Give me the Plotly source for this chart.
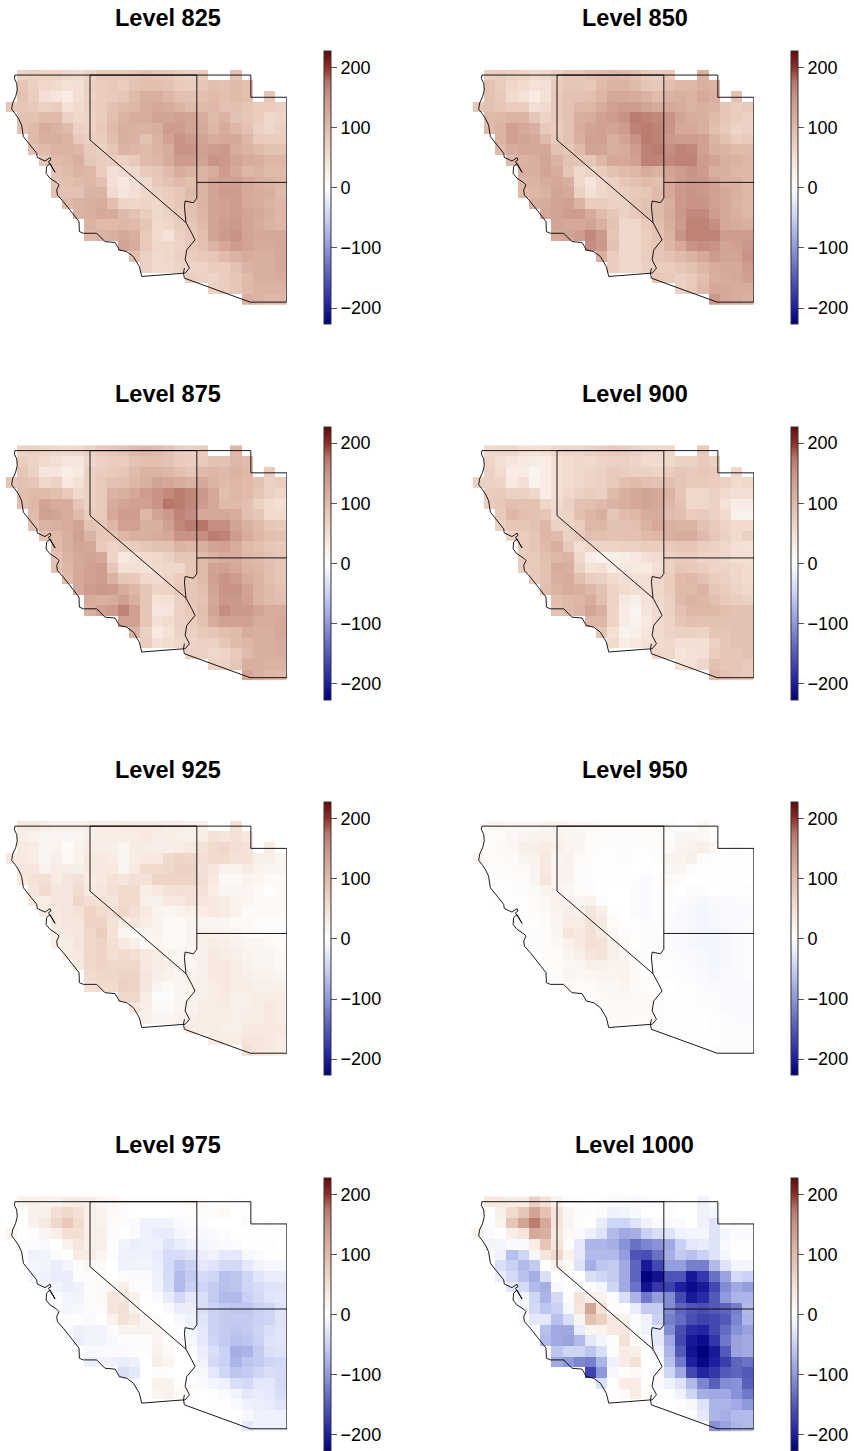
import plotly.graph_objects as go

LEVELS = [825, 850, 875, 900, 925, 950, 975, 1000]
N = None
LONS = [-124.375 + 0.625 * i for i in range(25)]
LATS = [42.0 - 0.5 * j for j in range(22)]
ROW_START = [1, 1, 1, 0, 1, 1, 2, 2, 3, 4, 4, 4, 5, 6, 7, 7, 10, 11, 12, 16, 18, 21]
ROW_STOP = [21, 22, 24] + [25] * 19

L825 = [
[65,70,65,65,60,55,65,80,80,80,85,90,85,85,75,70,75,N,N,90],
[85,70,60,55,45,50,70,75,80,75,90,95,95,90,80,75,85,95,90,100,95],
[90,75,50,40,30,50,65,75,80,85,100,115,115,105,95,90,95,100,95,100,95,N,85],
[85,85,80,70,75,45,55,70,75,90,100,105,120,125,120,110,100,100,105,90,95,85,75,75,70],
[90,90,100,100,70,60,65,75,95,110,120,120,130,130,135,130,120,100,110,90,85,75,60,65],
[90,100,120,110,100,70,65,80,100,115,110,110,115,140,140,130,125,105,120,105,90,70,60,70],
[100,115,115,110,80,70,75,95,115,110,90,110,130,150,140,130,120,125,125,105,80,75,75],
[90,100,110,110,105,80,70,85,110,105,100,110,120,150,150,135,140,145,120,110,100,90,90],
[85,100,105,115,85,75,75,70,80,100,105,120,140,140,130,150,145,130,120,115,105,105],
[90,100,110,105,75,50,55,60,80,85,100,120,110,110,120,140,125,105,110,100,100],
[90,95,100,105,95,50,35,50,60,80,90,100,95,110,130,135,135,125,115,110,105],
[90,90,90,110,110,55,40,50,60,70,75,85,100,110,130,140,140,125,120,115,100],
[100,110,115,120,95,65,60,65,60,75,85,95,110,130,135,140,125,120,110,105],
[110,115,125,120,100,90,75,60,70,80,90,105,130,135,140,130,125,115,105],
[110,100,100,105,100,85,55,60,75,85,100,130,140,145,130,120,110,105],
[105,110,115,125,115,80,55,45,70,80,95,130,145,150,130,125,125,125],
[130,120,80,60,60,65,80,90,110,125,140,130,120,120,125],
[95,70,55,60,70,75,80,85,100,110,120,115,115,125],
[70,55,55,65,65,65,75,75,90,110,115,115,125],
[75,70,65,75,85,100,115,115,120],
[70,75,85,100,110,110,110],
[115,110,105,105],
]
L850 = [
[70,75,70,65,55,60,70,85,85,95,100,105,100,95,80,75,80,N,N,110],
[90,75,60,55,45,50,75,85,85,80,100,110,110,100,85,80,95,105,105,115,110],
[90,80,55,45,30,45,80,90,90,95,105,125,125,120,110,100,110,115,110,125,115,N,90],
[85,90,85,75,75,50,55,80,90,105,105,120,135,140,140,130,120,125,120,110,115,110,85,75,80],
[100,105,110,110,85,65,80,90,115,120,135,140,150,170,165,160,150,130,120,115,100,85,75,70],
[100,110,135,125,115,80,75,90,120,130,135,130,140,165,170,165,150,125,125,115,95,80,65,70],
[110,135,130,125,100,80,90,115,135,135,115,130,150,170,165,145,140,140,135,110,90,75,80],
[100,120,125,125,125,90,85,100,130,130,115,120,140,165,170,155,165,160,135,115,110,100,100],
[100,110,115,130,110,90,85,85,105,125,125,135,165,165,160,165,165,140,130,115,110,105],
[115,115,130,120,85,60,65,75,90,100,105,120,110,130,140,150,140,115,115,105,105],
[105,110,120,125,115,60,40,60,70,85,90,100,95,125,140,145,145,130,115,115,105],
[100,105,110,130,125,70,50,60,70,75,80,85,100,125,145,150,145,135,125,115,105],
[115,120,130,135,110,75,75,70,70,85,90,100,115,145,150,150,135,125,110,105],
[125,130,140,140,120,100,85,70,80,95,100,120,145,160,160,140,125,115,105],
[130,125,125,130,115,90,60,60,80,95,115,140,165,165,155,125,120,115],
[125,130,140,160,145,85,60,60,75,90,110,150,165,165,165,140,140,140],
[155,145,90,60,60,75,85,105,125,150,155,150,130,135,145],
[115,75,60,60,75,85,90,100,110,125,140,130,130,150],
[75,60,60,70,75,75,85,90,105,120,125,125,140],
[85,80,70,80,95,115,120,125,135],
[70,80,100,125,125,120,120],
[145,125,120,115],
]
L875 = [
[65,70,65,60,55,60,70,80,85,90,100,105,100,90,75,70,75,N,N,105],
[75,65,55,50,40,40,60,70,75,75,90,95,95,90,80,75,80,90,90,105,100],
[85,70,40,40,25,35,70,75,80,85,100,110,110,105,95,85,100,105,100,110,105,N,75],
[85,90,85,60,70,35,45,70,80,90,95,105,115,130,125,120,110,125,110,100,105,100,90,70,75],
[95,100,100,95,80,60,70,80,110,115,125,140,150,160,170,160,145,125,95,105,100,85,70,60],
[95,105,130,120,120,85,70,80,120,130,135,135,150,175,170,160,140,125,100,100,90,70,55,50],
[100,135,130,120,100,75,80,125,140,140,105,130,145,165,155,125,125,125,120,95,85,55,55],
[90,110,115,120,130,90,85,105,135,135,115,115,135,160,170,175,155,155,130,115,100,85,80],
[90,100,115,135,110,85,85,105,115,115,120,125,150,150,155,170,165,140,120,105,95,90],
[100,115,130,125,80,65,70,75,85,90,90,110,105,115,130,135,120,100,95,85,80],
[90,110,125,130,125,65,35,45,55,60,70,85,85,100,110,120,120,105,100,90,85],
[90,105,125,135,140,85,50,50,45,55,60,60,85,100,130,135,125,110,105,95,85],
[100,125,135,140,110,85,80,60,55,65,75,85,100,135,150,140,120,110,95,85],
[125,140,145,140,120,105,85,65,65,80,85,95,130,150,150,130,110,100,90],
[120,115,120,135,115,85,45,50,70,85,90,125,145,145,135,110,100,95],
[115,135,140,165,135,85,40,40,70,80,95,130,155,145,145,130,120,120],
[135,135,85,50,55,70,75,90,120,135,135,135,120,120,125],
[110,70,35,45,65,70,80,85,95,100,120,115,115,125],
[75,50,55,60,65,70,70,85,100,105,115,115,120],
[70,70,60,65,80,100,115,115,120],
[65,70,85,115,115,110,110],
[130,115,105,100],
]
L900 = [
[55,60,60,50,45,50,60,65,65,70,75,80,75,70,60,60,60,N,N,80],
[65,50,40,35,30,30,50,55,60,55,65,70,70,65,55,55,60,70,70,80,70],
[70,55,30,30,15,30,50,55,60,65,70,80,75,70,70,65,75,85,80,85,80,N,60],
[70,70,65,35,50,20,30,50,55,60,65,70,80,95,100,95,90,95,85,80,80,75,70,55,60],
[75,80,70,70,60,30,50,60,70,75,70,100,115,125,130,125,110,85,60,60,70,55,50,50],
[75,85,95,90,90,60,55,70,90,95,100,110,115,125,130,125,105,90,60,60,70,45,30,30],
[80,105,95,90,85,60,65,95,105,115,85,100,105,120,120,100,95,75,80,70,55,20,20],
[70,85,85,90,105,70,65,75,105,105,90,90,95,110,125,115,110,110,90,80,65,55,55],
[65,75,85,105,100,70,80,95,95,90,90,90,100,105,115,120,120,100,85,70,55,70],
[75,85,100,115,80,50,60,65,65,70,70,75,75,80,85,85,75,70,60,50,45],
[75,80,95,105,110,60,30,20,25,30,35,50,55,70,75,75,65,65,60,50,50],
[75,80,90,120,115,70,45,50,30,35,35,35,50,70,85,80,75,65,65,60,55],
[80,90,115,120,95,75,70,55,50,50,50,60,75,100,105,90,75,70,60,55],
[95,110,120,115,105,90,65,55,50,50,60,75,100,100,110,85,75,65,60],
[95,100,105,120,95,65,35,25,45,55,70,100,110,105,95,80,75,70],
[90,100,110,130,115,65,30,15,40,55,70,90,105,105,105,95,90,90],
[105,105,65,30,20,35,55,65,85,95,90,90,90,90,90],
[85,50,20,25,40,55,65,70,70,65,85,85,90,90],
[55,30,35,45,55,60,50,50,50,70,85,90,90],
[60,60,40,45,50,75,85,85,90],
[45,45,60,90,85,85,80],
[100,90,85,80],
]
L925 = [
[35,35,30,25,25,25,30,30,30,35,35,35,35,30,30,25,25,N,N,45],
[25,20,15,15,15,15,25,30,30,30,30,35,30,30,25,25,30,45,40,45,35],
[35,30,15,20,10,20,30,25,25,15,30,30,25,25,30,35,45,55,60,50,45,N,30],
[35,35,30,15,25,10,20,35,35,30,15,30,35,35,55,65,60,50,55,55,45,45,25,25,15],
[40,40,20,30,30,25,35,35,35,15,35,55,55,60,70,70,50,40,20,20,30,20,15,15],
[35,45,50,30,40,45,30,35,45,40,50,45,65,65,65,65,50,35,10,10,20,15,10,10],
[40,55,40,40,55,35,40,50,55,55,30,35,45,50,45,45,30,15,15,15,10,3,10],
[35,30,40,40,60,50,45,40,55,55,25,25,35,35,45,40,35,30,20,15,10,10,10],
[30,35,40,45,65,55,50,60,50,35,20,15,20,25,30,35,30,20,10,10,10,10],
[35,40,40,65,65,45,30,40,30,20,10,10,15,15,15,15,10,10,5,5,5],
[30,35,40,60,75,45,15,5,15,20,10,10,15,25,20,20,15,10,10,5,5],
[25,30,40,60,65,50,35,25,10,15,10,10,15,25,30,25,20,15,15,10,5],
[30,35,60,65,50,55,50,35,30,20,15,15,25,35,30,25,20,15,15,10],
[35,60,65,60,60,60,35,30,25,15,15,25,35,35,30,20,15,15,10],
[55,60,60,65,65,40,25,20,15,20,25,35,35,30,25,20,20,15],
[50,55,55,70,65,40,15,10,15,20,25,30,35,30,30,25,25,25],
[60,60,30,5,5,15,20,25,30,35,25,25,30,30,30],
[40,25,10,10,15,20,30,30,30,25,25,30,35,30],
[25,15,15,20,25,30,30,30,25,30,30,35,30],
[30,30,30,25,25,35,35,35,35],
[30,30,30,40,40,35,30],
[50,40,35,30],
]
L950 = [
[15,15,12,12,12,15,18,15,12,12,10,8,8,8,8,8,8,N,N,15],
[5,8,12,18,20,22,20,15,15,8,5,5,5,5,5,8,5,15,15,12,5],
[5,10,12,25,25,30,25,18,15,5,3,3,5,3,3,5,8,18,20,25,12,N,5],
[15,8,8,10,15,20,35,15,20,8,3,3,3,5,3,2,5,20,20,25,5,3,3,3,3],
[5,5,8,10,18,35,18,20,5,3,3,2,2,0,-2,0,15,15,5,0,2,3,3,2],
[5,3,3,5,15,40,18,20,5,5,2,2,2,-2,-5,-2,8,5,0,0,2,2,2,0],
[3,3,5,10,20,18,12,8,5,2,0,0,-3,-6,-3,3,0,-3,-2,0,-2,-2,-2],
[2,3,3,8,12,22,18,15,20,5,0,0,-3,-6,-3,-2,-3,-6,-8,-5,-5,-4,-3],
[2,3,5,10,18,25,22,40,25,3,0,-4,-6,-3,-3,-6,-8,-10,-8,-6,-5,-5],
[2,3,8,15,30,30,45,35,8,2,-2,-4,-3,-4,-6,-8,-10,-8,-6,-5,-4],
[2,5,5,15,40,35,50,35,12,5,-2,-3,-3,-4,-5,-8,-10,-10,-8,-5,-4],
[3,5,5,12,22,35,50,45,25,10,0,-3,-4,-4,-5,-8,-10,-10,-8,-5,-4],
[3,5,8,15,25,40,45,25,15,5,-2,-3,-3,-4,-6,-8,-10,-8,-5,-4],
[5,8,12,15,25,25,20,20,8,0,-2,-2,-3,-5,-8,-10,-8,-5,-3],
[5,15,12,15,18,15,20,10,3,0,-2,-2,-3,-5,-8,-6,-5,-3],
[3,8,8,8,12,12,15,10,5,2,0,-2,-2,-4,-5,-6,-5,-5],
[5,8,12,12,10,8,3,2,0,-2,-4,-4,-5,-6,-6],
[5,10,10,10,8,5,2,2,0,-2,-3,-5,-6,-6],
[8,10,8,8,5,3,3,2,0,-2,-3,-4,-5],
[5,3,3,2,0,-2,-3,-3,-4],
[3,3,2,0,-2,-2,-3],
[-2,-3,-2,-2],
]
L975 = [
[20,25,20,20,30,30,25,15,12,8,5,3,3,3,5,8,8,N,N,3],
[2,25,25,50,60,45,25,20,10,5,0,0,0,0,3,2,5,5,10,0,-2],
[2,20,35,60,80,55,25,20,5,3,-5,-15,-15,-12,-5,-3,-3,0,0,0,-3,N,-2],
[15,0,3,15,25,50,50,25,25,5,0,-5,-15,-20,-20,-10,-5,-8,-5,-3,0,0,0,0,0],
[-2,-3,-5,0,20,40,25,25,3,-12,-18,-15,-15,-30,-20,-15,-10,-8,-5,-3,0,2,3,0],
[-3,-15,-12,-3,0,30,30,15,-3,-15,-15,-15,-20,-38,-38,-30,-18,-15,-25,-25,-8,-5,0,0],
[-10,-12,-18,-12,5,15,10,0,-15,-12,-12,-18,-38,-60,-50,-25,-30,-42,-42,-25,-12,-8,-8],
[-10,-15,-20,-20,-3,5,8,0,-3,-5,-5,-15,-38,-70,-55,-40,-45,-65,-60,-45,-28,-20,-20],
[-8,-12,-18,-15,-3,10,15,25,5,-3,-15,-35,-70,-50,-45,-55,-65,-60,-45,-38,-30,-30],
[-5,-10,-12,-3,10,40,35,20,0,-5,-20,-42,-25,-35,-55,-70,-70,-50,-40,-28,-25],
[-5,-10,-8,-3,5,40,50,20,3,0,-5,-20,-18,-35,-50,-55,-60,-60,-50,-45,-30],
[-3,-3,-2,-5,0,20,45,35,15,5,0,-8,-15,-30,-50,-55,-55,-55,-50,-45,-30],
[-3,-15,-12,-12,-3,15,15,15,15,3,-3,-12,-25,-48,-55,-60,-55,-45,-35,-28],
[-18,-12,-12,-8,-3,-2,5,18,3,0,-8,-25,-45,-55,-65,-60,-50,-30,-28],
[-8,-5,-5,-5,-2,3,20,8,0,-3,-18,-35,-50,-80,-75,-55,-35,-30],
[-18,-15,-15,-20,-15,0,25,15,0,0,-12,-40,-50,-75,-60,-55,-45,-40],
[-35,-25,0,5,3,0,-3,-8,-25,-45,-60,-55,-45,-35,-38],
[-8,0,20,20,2,-3,-5,-10,-15,-35,-40,-25,-25,-38],
[0,15,22,8,0,0,0,-5,-12,-25,-20,-25,-35],
[2,0,2,0,-5,-15,-18,-20,-28],
[2,0,0,-8,-15,-15,-15],
[-25,-15,-15,-15],
]
L1000 = [
[35,35,30,30,70,45,20,3,3,0,-3,-5,-5,-8,-5,-3,-3,N,N,-15],
[0,25,55,85,130,90,40,15,5,3,-5,-15,-12,-8,0,0,-2,0,0,-15,-10],
[-2,20,85,130,170,125,40,15,3,0,-20,-45,-45,-30,-15,-5,-5,-5,0,-15,-30,N,-3],
[20,-5,0,25,40,125,115,35,10,-5,-15,-30,-70,-85,-80,-50,-35,-30,-15,-10,-10,-30,-10,-5,-5],
[-12,-10,-5,-5,30,85,40,5,-25,-75,-75,-80,-105,-130,-115,-105,-85,-50,-25,-20,-30,-5,2,2],
[-3,-15,-65,-45,-10,40,60,20,-25,-70,-70,-70,-95,-155,-160,-130,-80,-55,-65,-50,-30,-10,0,0],
[-35,-50,-70,-55,0,25,10,-30,-80,-60,-55,-85,-140,-205,-165,-95,-95,-120,-120,-70,-30,-10,-10],
[-20,-40,-65,-80,-35,3,3,0,-35,-45,-55,-85,-140,-225,-210,-155,-155,-205,-180,-130,-90,-40,-50],
[-25,-40,-70,-80,-8,3,5,5,-10,-45,-85,-130,-210,-180,-170,-200,-215,-205,-165,-110,-85,-95],
[-10,-45,-75,-40,3,45,25,20,-3,-35,-75,-125,-95,-110,-165,-205,-190,-150,-100,-75,-75],
[-10,-40,-60,-50,-8,40,130,45,5,3,-20,-55,-55,-110,-140,-155,-160,-150,-140,-120,-70],
[-3,-25,-25,-65,-35,15,90,70,35,20,-3,-15,-50,-120,-135,-160,-170,-165,-150,-115,-75],
[-5,-65,-85,-85,-20,15,20,35,35,3,-15,-25,-110,-160,-190,-195,-165,-135,-105,-90],
[-70,-85,-90,-70,-25,-10,5,45,8,-5,-25,-85,-165,-205,-215,-180,-125,-90,-85],
[-60,-45,-45,-60,-35,-3,30,25,0,-15,-75,-150,-210,-227,-205,-150,-90,-85],
[-85,-100,-115,-120,-75,-15,30,45,0,-2,-65,-125,-200,-220,-200,-175,-140,-130],
[-170,-100,-8,3,10,0,-8,-45,-85,-165,-195,-180,-150,-140,-150],
[-35,0,30,30,2,-5,-15,-30,-70,-115,-145,-110,-105,-145],
[-2,10,30,8,-2,-2,-15,-45,-80,-85,-85,-105,-125],
[0,0,-2,-8,-30,-75,-75,-85,-100],
[0,-3,-25,-75,-80,-70,-70],
[-105,-90,-75,-70],
]
LEVEL_DATA = [L825, L850, L875, L900, L925, L950, L975, L1000]

BORDER_LON = [
    -120.0, -114.07, -114.07, -114.26, -114.72, -114.76, -114.67, None,
    -124.17, -111.07, None,
    -111.07, -111.07, -109.07, -109.07, -111.11, -114.76, -114.81, -114.76, None,
    -114.07, -109.07, None,
    -120.0, -120.0, -114.67, -114.54, -114.35, -114.17, -114.63, -114.72, -114.48, -114.72, -114.81, -117.13,
    -117.26, -117.59, -117.96, -118.37, -118.61, -119.17, -119.63, -120.37, -120.59, -120.61, -120.89, -121.20,
    -121.48, -121.81, -121.85, -121.72, -121.85, -122.22, -122.44, -122.41, -122.22, -121.94, -122.22, -122.31,
    -122.17, -122.22, -122.50, -122.69, -122.93, -122.96, -123.15, -123.43, -123.70, -123.80, -123.98, -124.17,
    -124.35, -124.30, -124.13, -124.04, -124.07, -124.20, -124.17,
]
BORDER_LAT = [
    42.0, 42.0, 36.24, 36.03, 36.11, 35.85, 35.10, None,
    42.0, 42.0, None,
    42.0, 40.96, 40.96, 31.38, 31.38, 32.50, 32.73, 32.97, None,
    36.98, 36.98, None,
    42.0, 38.96, 35.10, 34.91, 34.60, 34.29, 33.82, 33.36, 32.97, 32.73, 32.73, 32.58,
    33.04, 33.51, 33.74, 33.82, 34.17, 34.21, 34.60, 34.60, 34.68, 35.15, 35.46, 35.77,
    36.08, 36.39, 36.63, 36.86, 36.97, 37.17, 37.40, 37.72, 37.87, 37.45, 37.79, 37.95,
    38.03, 38.14, 37.98, 38.07, 38.15, 38.34, 38.53, 38.81, 39.12, 39.66, 39.98, 40.21,
    40.40, 40.68, 40.99, 41.30, 41.61, 41.84, 42.0,
]

COLOR_VALUES = [-227, -200, -170, -140, -100, -50, 0, 50, 100, 150, 175, 200, 227]
COLOR_HEX = ["#00007a", "#1e1ea0", "#3f42ae", "#5f65be", "#8f98da", "#c9d1f4", "#ffffff",
             "#f3dfd3", "#e0bbab", "#c99488", "#b8766a", "#8e2e2b", "#640808"]
ZMIN, ZMAX = -227, 227
COLORSCALE = [[(v - ZMIN) / (ZMAX - ZMIN), c] for v, c in zip(COLOR_VALUES, COLOR_HEX)]
TICKS = [-200, -100, 0, 100, 200]

W, H = 854, 1451
DX, DY = 467, 375.55
FONT = "Liberation Sans, Arial, Helvetica, sans-serif"

fig = go.Figure()
layout = dict(width=W, height=H, margin=dict(l=0, r=0, t=0, b=0),
              paper_bgcolor="white", plot_bgcolor="white", showlegend=False)
annotations = []

for k, (level, rows) in enumerate(zip(LEVELS, LEVEL_DATA)):
    col, row = k % 2, k // 2
    z = []
    for start, stop, r in zip(ROW_START, ROW_STOP, rows):
        assert start + len(r) == stop, (level, start, stop, len(r))
        z.append([None] * start + r + [None] * (25 - stop))
    suffix = "" if k == 0 else str(k + 1)
    xname, yname = "x" + suffix, "y" + suffix
    ox, oy = col * DX, row * DY
    layout["xaxis" + suffix] = dict(domain=[(5.6 + ox) / W, (287.0 + ox) / W],
                                    range=[-124.6875, -109.0625], visible=False,
                                    anchor=yname, fixedrange=True)
    layout["yaxis" + suffix] = dict(domain=[1 - (304.9 + oy) / H, 1 - (69.7 + oy) / H],
                                    range=[31.25, 42.25], visible=False,
                                    anchor=xname, fixedrange=True)
    fig.add_trace(go.Heatmap(
        x=LONS, y=LATS, z=z, xaxis=xname, yaxis=yname, zmin=ZMIN, zmax=ZMAX,
        colorscale=COLORSCALE, hoverongaps=False,
        colorbar=dict(x=(323.5 + ox) / W, xanchor="left", xpad=0,
                      y=1 - (187.8 + oy) / H, yanchor="middle", ypad=0,
                      lenmode="pixels", len=272.5, thicknessmode="pixels", thickness=7,
                      tickvals=TICKS, ticks="outside", ticklen=6, tickwidth=1,
                      tickcolor="#555555", outlinecolor="#333333", outlinewidth=1,
                      tickfont=dict(family=FONT, size=18, color="black"))))
    fig.add_trace(go.Scatter(
        x=BORDER_LON, y=BORDER_LAT, xaxis=xname, yaxis=yname, mode="lines",
        line=dict(color="black", width=0.9), hoverinfo="skip", cliponaxis=False))
    annotations.append(dict(text="<b>Level %d</b>" % level, xref="paper", yref="paper",
                            x=(167.5 + ox) / W, y=1 - (18.5 + oy) / H,
                            xanchor="center", yanchor="middle", showarrow=False,
                            font=dict(family=FONT, size=23.5, color="black")))

layout["annotations"] = annotations
fig.update_layout(**layout)
fig.write_html("out.html", config={"displayModeBar": False},
               post_script="document.body.style.margin='0';document.documentElement.style.overflow='hidden';")
